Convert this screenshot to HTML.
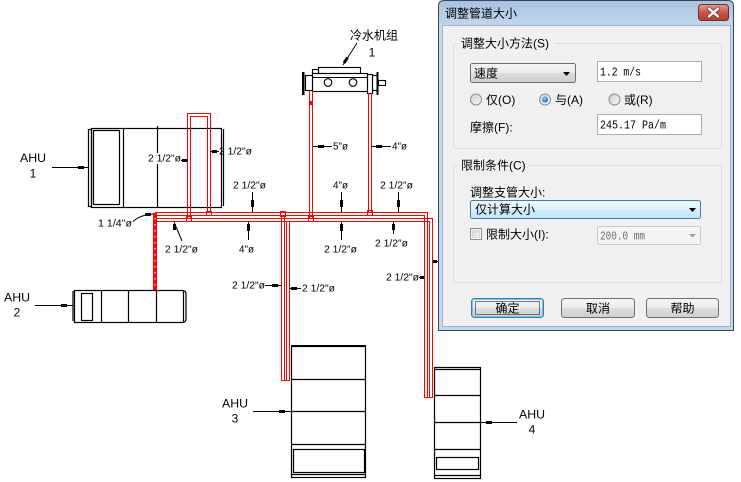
<!DOCTYPE html>
<html><head><meta charset="utf-8">
<style>
html,body{margin:0;padding:0;background:#fff;}
svg{display:block;}
.l{font-family:"Liberation Sans",sans-serif;font-size:10px;fill:#000;}
.a{font-family:"Liberation Sans",sans-serif;font-size:12px;fill:#000;}
.c{font-family:"Liberation Sans","Noto Sans CJK SC",sans-serif;font-size:12px;fill:#000;}
.m{font-family:"Liberation Mono",monospace;font-size:12px;fill:#000;}
</style></head><body>
<svg width="741" height="482" viewBox="0 0 741 482" xmlns="http://www.w3.org/2000/svg">
<defs>
<linearGradient id="tb" gradientUnits="userSpaceOnUse" x1="0" y1="0" x2="0" y2="26"><stop offset="0" stop-color="#a6c1df"/><stop offset="1" stop-color="#c3d7ed"/></linearGradient>
<linearGradient id="cb" x1="0" y1="0" x2="0" y2="1"><stop offset="0" stop-color="#e0a198"/><stop offset="0.5" stop-color="#c8564a"/><stop offset="1" stop-color="#b13c30"/></linearGradient>
<linearGradient id="btn" x1="0" y1="0" x2="0" y2="1"><stop offset="0" stop-color="#f5f5f5"/><stop offset="0.5" stop-color="#ebebeb"/><stop offset="0.5" stop-color="#dddddd"/><stop offset="1" stop-color="#cfcfcf"/></linearGradient>
<linearGradient id="bl" x1="0" y1="0" x2="0" y2="1"><stop offset="0" stop-color="#eef8fe"/><stop offset="0.5" stop-color="#e2f3fd"/><stop offset="0.5" stop-color="#d3edfb"/><stop offset="1" stop-color="#c4e5f8"/></linearGradient>
<linearGradient id="rg" x1="0" y1="0" x2="1" y2="1"><stop offset="0" stop-color="#d0d0d0"/><stop offset="1" stop-color="#f8f8f8"/></linearGradient>
<radialGradient id="rd" cx="0.4" cy="0.35" r="0.7"><stop offset="0" stop-color="#8fd0ff"/><stop offset="1" stop-color="#1a5fa8"/></radialGradient>
</defs>

<!-- ===== Chiller ===== -->
<g stroke="#000" fill="none" stroke-width="1.1">
<rect x="318.5" y="67.5" width="42" height="6"/>
<rect x="312.5" y="69.5" width="6" height="4"/>
<rect x="312.5" y="73.5" width="55" height="18"/>
<line x1="313" y1="77.5" x2="367" y2="77.5"/>
<circle cx="328" cy="82.5" r="3.8"/>
<circle cx="353" cy="82.5" r="3.8"/>
<rect x="305.5" y="75.5" width="7" height="15"/>
<rect x="367.5" y="74.5" width="5" height="19"/>
<rect x="372.5" y="75.5" width="5" height="15"/>
<rect x="378.5" y="80.5" width="7" height="5"/>
</g>
<rect x="302" y="72" width="2.5" height="23" fill="#000"/>
<rect x="376.5" y="72" width="2" height="23" fill="#000"/>
<line x1="343" y1="65" x2="357" y2="43" stroke="#000" stroke-width="1"/>
<line x1="344" y1="63" x2="347.5" y2="57.5" stroke="#000" stroke-width="3"/>
<text x="350" y="39.5" class="c">冷水机组</text>
<text x="372" y="56.5" class="a" text-anchor="middle">1</text>

<!-- ===== AHU 1 ===== -->
<g stroke="#000" fill="none" stroke-width="1.2">
<rect x="88.5" y="129.5" width="3" height="77"/>
<rect x="91.5" y="128.5" width="130" height="79"/>
<line x1="223.5" y1="129" x2="223.5" y2="206"/>
<rect x="93.5" y="130.5" width="26" height="74"/>
<line x1="123.5" y1="128.5" x2="123.5" y2="207.5"/>
<line x1="157.5" y1="126" x2="157.5" y2="207.5"/>
</g>
<text x="33" y="162" class="a" text-anchor="middle" textLength="26" lengthAdjust="spacingAndGlyphs">AHU</text>
<text x="33" y="177.5" class="a" text-anchor="middle">1</text>
<line x1="52" y1="167.5" x2="88" y2="167.5" stroke="#000"/>
<rect x="78" y="166" width="6" height="3" fill="#000"/>

<!-- ===== AHU 2 ===== -->
<g stroke="#000" fill="none" stroke-width="1.2">
<line x1="73" y1="291" x2="73" y2="321"/>
<rect x="74.5" y="290.5" width="109" height="32"/>
<path d="M183.5,291 Q186,291 186,294 V319 Q186,322 183.5,322"/>
<line x1="101.5" y1="290.5" x2="101.5" y2="322.5"/>
<line x1="128.5" y1="290.5" x2="128.5" y2="322.5"/>
<line x1="156.5" y1="290.5" x2="156.5" y2="322.5"/>
<rect x="81.5" y="293.5" width="11" height="27"/>
</g>
<text x="17" y="301.5" class="a" text-anchor="middle" textLength="26" lengthAdjust="spacingAndGlyphs">AHU</text>
<text x="17" y="316.5" class="a" text-anchor="middle">2</text>
<line x1="35" y1="305.5" x2="73" y2="305.5" stroke="#000"/>
<rect x="61" y="304" width="6" height="3" fill="#000"/>

<!-- ===== AHU 3 ===== -->
<g stroke="#000" fill="none" stroke-width="1.2">
<rect x="291.5" y="346.5" width="74" height="131"/>
<line x1="291" y1="346" x2="366" y2="346" stroke-width="2"/>
<line x1="291.5" y1="379.5" x2="365.5" y2="379.5"/>
<line x1="291.5" y1="411.5" x2="365.5" y2="411.5"/>
<line x1="291.5" y1="444.5" x2="365.5" y2="444.5"/>
<rect x="293.5" y="449.5" width="71" height="23"/>
<line x1="291.5" y1="474.5" x2="365.5" y2="474.5"/>
</g>
<text x="235" y="407.5" class="a" text-anchor="middle" textLength="26" lengthAdjust="spacingAndGlyphs">AHU</text>
<text x="235" y="422.5" class="a" text-anchor="middle">3</text>
<line x1="253" y1="411.5" x2="291" y2="411.5" stroke="#000"/>
<rect x="279" y="410" width="6" height="3" fill="#000"/>

<!-- ===== AHU 4 ===== -->
<g stroke="#000" fill="none" stroke-width="1.2">
<rect x="434.5" y="367.5" width="46" height="111"/>
<line x1="434.5" y1="369.5" x2="480.5" y2="369.5"/>
<line x1="434.5" y1="395.5" x2="480.5" y2="395.5"/>
<line x1="434.5" y1="422.5" x2="480.5" y2="422.5"/>
<line x1="434.5" y1="449.5" x2="480.5" y2="449.5"/>
<rect x="436.5" y="457.5" width="42" height="12"/>
<line x1="434.5" y1="475.5" x2="480.5" y2="475.5"/>
</g>
<text x="532" y="418.5" class="a" text-anchor="middle" textLength="26" lengthAdjust="spacingAndGlyphs">AHU</text>
<text x="532" y="433.5" class="a" text-anchor="middle">4</text>
<line x1="480" y1="422.5" x2="517" y2="422.5" stroke="#000"/>
<rect x="486" y="421" width="6" height="3" fill="#000"/>

<!-- ===== Red pipes ===== -->
<g stroke="#ff0000" fill="none" stroke-width="1">
<path d="M187.5,219 V113.5 H210.5 V213"/>
<path d="M190.5,218.5 V116.5 H207.5 V212.5"/>
<path d="M155,212.5 H427.5 V397.5"/>
<path d="M157,215.5 H424.5 V397.5"/>
<path d="M157,218.5 H432.5 V397.5"/>
<path d="M157,221.5 H429.5 V397.5"/>
<path d="M424,397.5 H433"/>
<path d="M281.5,215.5 V380.5 M284.5,215.5 V380.5 M286.5,221.5 V380.5 M289.5,221.5 V380.5 M281,380.5 H290"/>
<path d="M309.5,91 V218.5 M312.5,91 V218.5"/>
<path d="M368.5,93 V212.5 M371.5,93 V212.5"/>
<rect x="186.5" y="216.5" width="5" height="5"/>
<rect x="206.5" y="211.5" width="5" height="4"/>
<rect x="280.5" y="211.5" width="5" height="5"/>
<rect x="308.5" y="216.5" width="5" height="5"/>
<rect x="367.5" y="210.5" width="5" height="5"/>
</g>
<rect x="310" y="101" width="3" height="4" fill="#ff0000"/>
<rect x="153" y="213" width="4" height="77" fill="#ff0000"/>
<line x1="155" y1="218" x2="155" y2="288" stroke="#fff" stroke-width="1" stroke-dasharray="1.5,4.5"/>

<!-- ===== Dimension labels ===== -->
<rect x="147" y="153" width="35" height="11" fill="#fff"/>
<g stroke="#000" fill="none" stroke-width="1">
<line x1="181" y1="160.5" x2="188" y2="160.5"/>
<line x1="210" y1="151.5" x2="219" y2="151.5"/>
<line x1="252.5" y1="192" x2="252.5" y2="212"/>
<line x1="341.5" y1="192" x2="341.5" y2="212"/>
<line x1="398.5" y1="192" x2="398.5" y2="212"/>
<path d="M174,222 L182,241"/>
<line x1="248.5" y1="222" x2="248.5" y2="240"/>
<line x1="341.5" y1="222" x2="341.5" y2="240"/>
<line x1="393.5" y1="222" x2="393.5" y2="234"/>
<line x1="265" y1="285.5" x2="281" y2="285.5"/>
<line x1="289" y1="288.5" x2="301" y2="288.5"/>
<line x1="419" y1="277.5" x2="424" y2="277.5"/>
<line x1="433" y1="261.5" x2="438" y2="261.5"/>
<path d="M133,221.5 Q140,215 153,214"/>
<line x1="313" y1="146.5" x2="332" y2="146.5"/>
<line x1="371" y1="146.5" x2="391" y2="146.5"/>
</g>
<g fill="#000">
<rect x="182" y="159" width="5" height="3"/>
<rect x="212" y="150" width="5" height="3"/>
<rect x="251" y="200" width="3" height="7"/>
<rect x="340" y="200" width="3" height="7"/>
<rect x="397" y="200" width="3" height="7"/>
<rect x="173" y="224" width="3" height="6"/>
<rect x="247" y="224" width="3" height="7"/>
<rect x="340" y="224" width="3" height="7"/>
<rect x="392" y="224" width="3" height="6"/>
<rect x="272" y="284" width="6" height="3"/>
<rect x="291" y="287" width="6" height="3"/>
<rect x="420" y="276" width="4" height="3"/>
<rect x="433" y="260" width="4" height="3"/>
<rect x="145" y="213" width="6" height="3"/>
<rect x="318" y="145" width="6" height="3"/>
<rect x="376" y="145" width="6" height="3"/>
</g>
<g class="l">
<text x="148" y="161.5" textLength="33" lengthAdjust="spacingAndGlyphs">2 1/2"ø</text>
<text x="219" y="154.5" textLength="33" lengthAdjust="spacingAndGlyphs">2 1/2"ø</text>
<text x="233" y="188.5" textLength="33" lengthAdjust="spacingAndGlyphs">2 1/2"ø</text>
<text x="333" y="188.5" textLength="15" lengthAdjust="spacingAndGlyphs">4"ø</text>
<text x="380" y="188.5" textLength="33" lengthAdjust="spacingAndGlyphs">2 1/2"ø</text>
<text x="98" y="226.5" textLength="34" lengthAdjust="spacingAndGlyphs">1 1/4"ø</text>
<text x="165" y="252.5" textLength="33" lengthAdjust="spacingAndGlyphs">2 1/2"ø</text>
<text x="239" y="252.5" textLength="15" lengthAdjust="spacingAndGlyphs">4"ø</text>
<text x="324" y="252.5" textLength="33" lengthAdjust="spacingAndGlyphs">2 1/2"ø</text>
<text x="375" y="246.5" textLength="33" lengthAdjust="spacingAndGlyphs">2 1/2"ø</text>
<text x="232" y="288.5" textLength="33" lengthAdjust="spacingAndGlyphs">2 1/2"ø</text>
<text x="302" y="291.5" textLength="33" lengthAdjust="spacingAndGlyphs">2 1/2"ø</text>
<text x="386" y="280.5" textLength="33" lengthAdjust="spacingAndGlyphs">2 1/2"ø</text>
<text x="333" y="149.5" textLength="15" lengthAdjust="spacingAndGlyphs">5"ø</text>
<text x="392" y="149.5" textLength="15" lengthAdjust="spacingAndGlyphs">4"ø</text>
</g>

<!-- ===== Dialog ===== -->
<path d="M438.5,330.5 V6 Q438.5,0.5 444,0.5 H728 Q733.5,0.5 733.5,6 V330.5 Z" fill="url(#tb)" stroke="#3b4756"/>
<rect x="442.5" y="25.5" width="288" height="301" fill="#f0f0f0" stroke="#9fb5cf"/>
<text x="445" y="17.5" class="c">调整管道大小</text>
<rect x="698.5" y="4.5" width="30" height="16" rx="3" fill="url(#cb)" stroke="#6e2e28"/>
<path d="M709,8.5 L718,16.5 M718,8.5 L709,16.5" stroke="#7a3a34" stroke-width="4" stroke-linecap="round"/>
<path d="M709,8.5 L718,16.5 M718,8.5 L709,16.5" stroke="#ffffff" stroke-width="2.4" stroke-linecap="round"/>

<!-- group 1 -->
<rect x="453.5" y="43.5" width="268" height="105" rx="3" fill="none" stroke="#d5dfe5"/>
<rect x="458" y="36" width="96" height="14" fill="#f0f0f0"/>
<text x="461" y="47.5" class="c">调整大小方法(S)</text>
<rect x="470.5" y="63.5" width="105" height="19" rx="2" fill="url(#btn)" stroke="#707070"/>
<text x="474" y="77.5" class="c">速度</text>
<path d="M563,72 H570 L566.5,76 Z" fill="#000"/>
<rect x="597.5" y="61.5" width="104" height="20" fill="#fff" stroke="#abadb3"/>
<text x="600" y="75.5" class="m" textLength="41" lengthAdjust="spacingAndGlyphs">1.2 m/s</text>
<circle cx="476" cy="99.5" r="5.5" fill="url(#rg)" stroke="#8e8f8f"/>
<text x="486" y="104" class="c">仅(O)</text>
<circle cx="545" cy="99.5" r="5.5" fill="url(#rg)" stroke="#8e8f8f"/>
<circle cx="545" cy="99.5" r="3" fill="url(#rd)"/>
<text x="555" y="104" class="c">与(A)</text>
<circle cx="614.5" cy="99.5" r="5.5" fill="url(#rg)" stroke="#8e8f8f"/>
<text x="624" y="104" class="c">或(R)</text>
<text x="470" y="131.5" class="c">摩擦(F):</text>
<rect x="597.5" y="114.5" width="104" height="20" fill="#fff" stroke="#abadb3"/>
<text x="600" y="128.5" class="m" textLength="66" lengthAdjust="spacingAndGlyphs">245.17 Pa/m</text>

<!-- group 2 -->
<rect x="453.5" y="165.5" width="268" height="117" rx="3" fill="none" stroke="#d5dfe5"/>
<rect x="458" y="158" width="70" height="14" fill="#f0f0f0"/>
<text x="461" y="169.5" class="c">限制条件(C)</text>
<text x="470" y="196.5" class="c">调整支管大小:</text>
<rect x="470.5" y="200.5" width="230" height="18" rx="2" fill="url(#bl)" stroke="#3c7fb1"/>
<text x="475" y="213.5" class="c">仅计算大小</text>
<path d="M689,208 H696 L692.5,212 Z" fill="#000"/>
<rect x="470.5" y="228.5" width="11" height="11" fill="#f4f4f4" stroke="#8e8f8f"/>
<rect x="472.5" y="230.5" width="7" height="7" fill="url(#rg)" stroke="#c8c8c8" stroke-width="0.6"/>
<text x="486" y="238.5" class="c">限制大小(I):</text>
<rect x="597.5" y="226.5" width="103" height="18" rx="2" fill="#f4f4f4" stroke="#c8c8c8"/>
<text x="600" y="239.5" class="m" style="fill:#6d6d6d" textLength="45" lengthAdjust="spacingAndGlyphs">200.0 mm</text>
<path d="M689,234 H696 L692.5,237.5 Z" fill="#a0a0a0"/>

<!-- buttons -->
<rect x="471.5" y="298.5" width="72" height="19" rx="3" fill="url(#btn)" stroke="#3c7fb1"/>
<rect x="472.5" y="299.5" width="70" height="17" rx="2" fill="none" stroke="#6cc4ef" stroke-width="1"/>
<rect x="475.5" y="301.5" width="64" height="13" fill="none" stroke="#000" stroke-width="1" stroke-dasharray="1,1"/>
<text x="507.5" y="312.5" class="c" text-anchor="middle">确定</text>
<rect x="561.5" y="298.5" width="73" height="19" rx="3" fill="url(#btn)" stroke="#707070"/>
<text x="598" y="312.5" class="c" text-anchor="middle">取消</text>
<rect x="646.5" y="298.5" width="72" height="19" rx="3" fill="url(#btn)" stroke="#707070"/>
<text x="682.5" y="312.5" class="c" text-anchor="middle">帮助</text>
</svg>
</body></html>
